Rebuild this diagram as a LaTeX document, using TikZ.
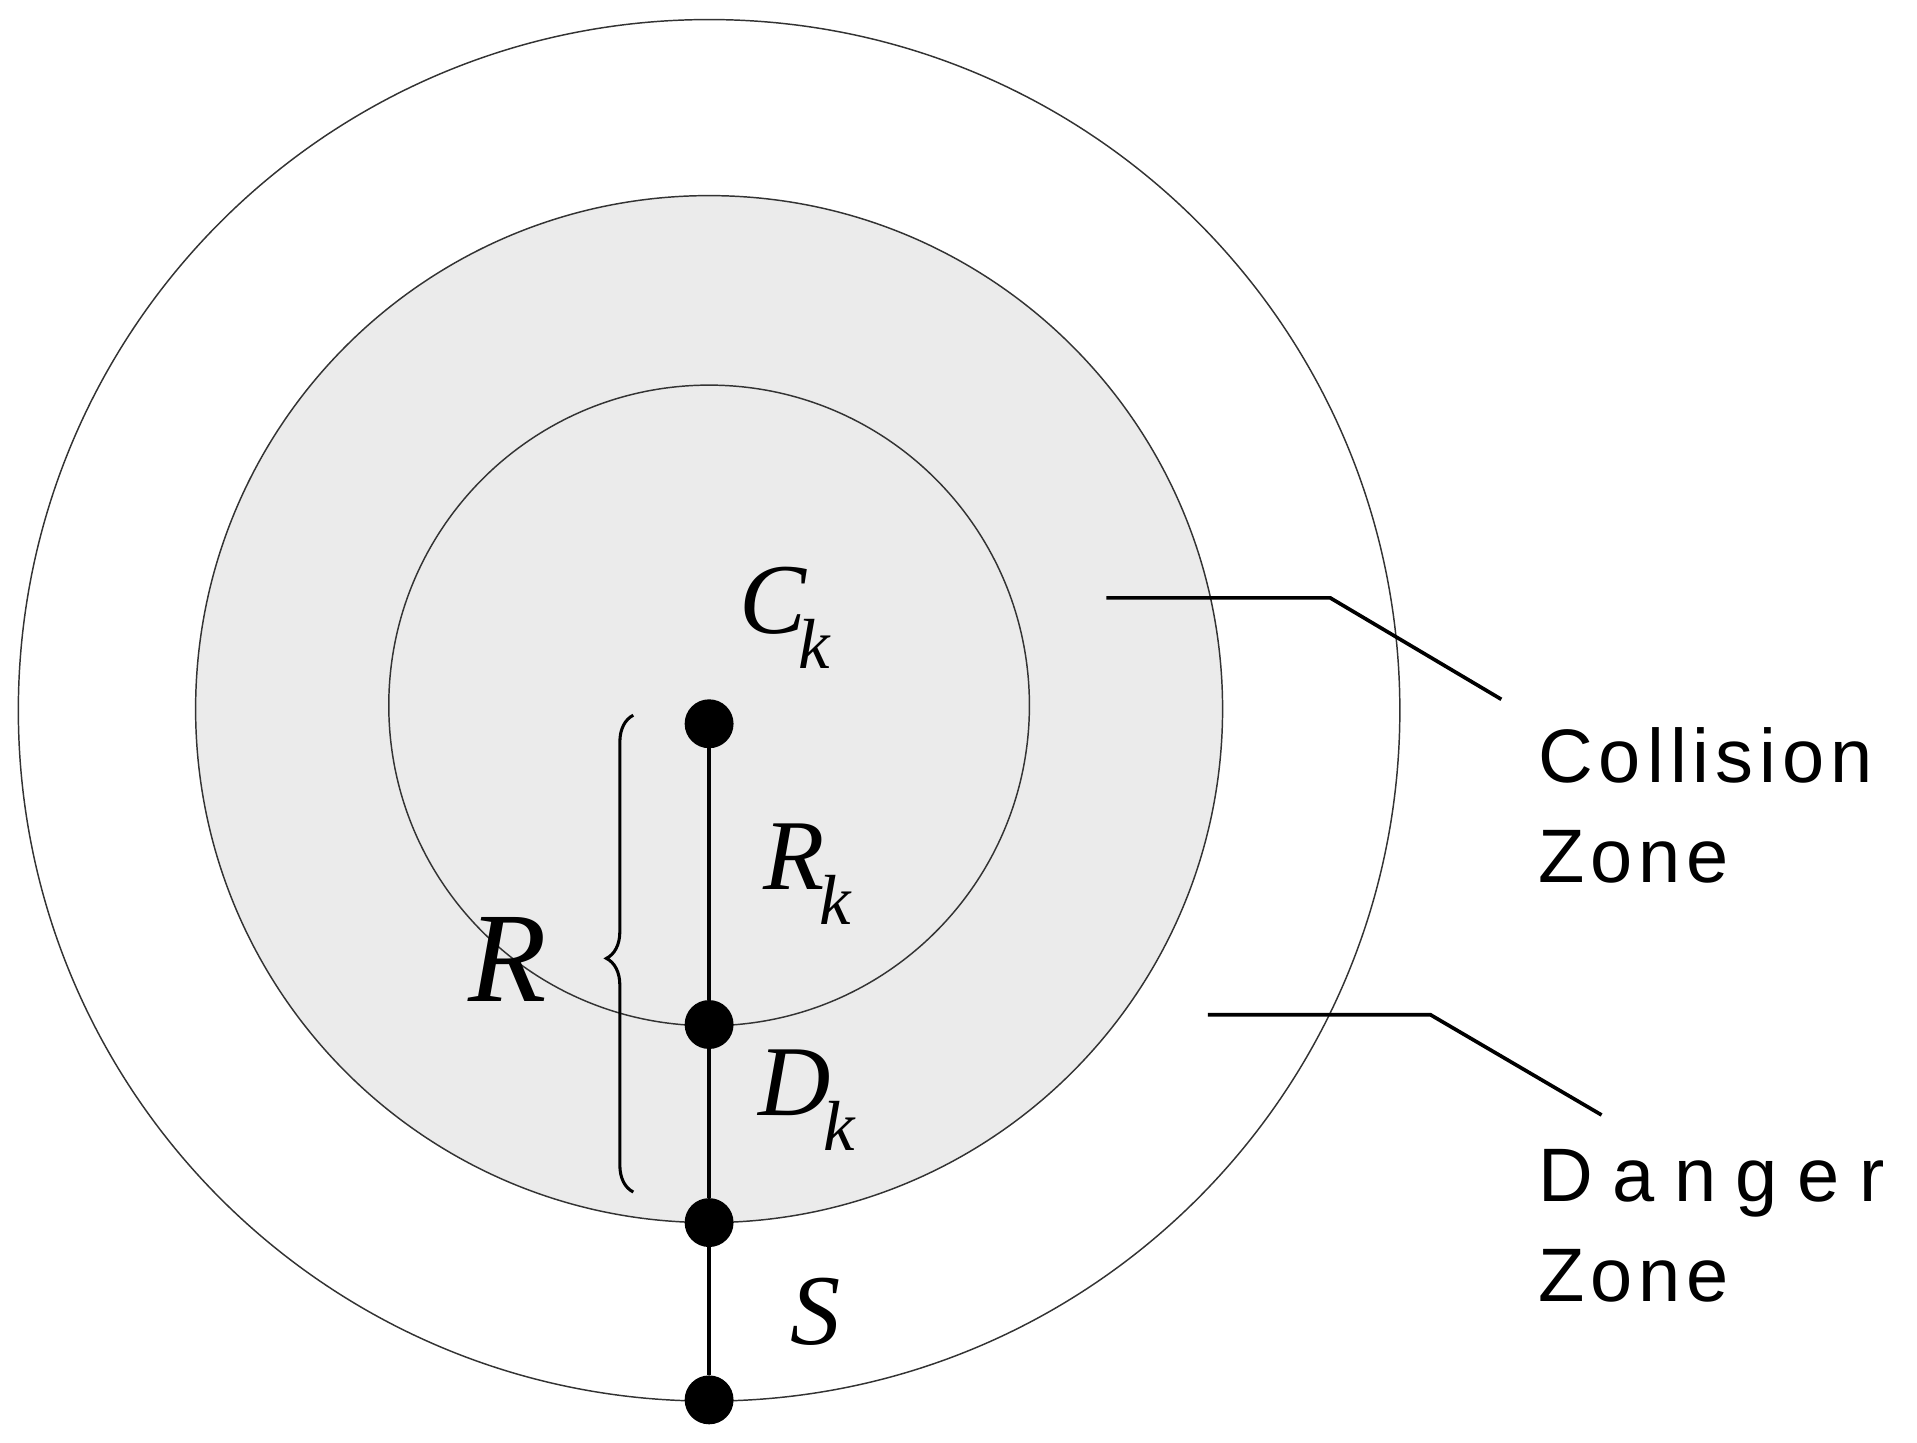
\documentclass[tikz,border=0pt]{standalone}
\usepackage{fontspec}
\setmainfont{Liberation Serif}
\newfontfamily\zsans[LetterSpace=8]{Liberation Sans}
\usetikzlibrary{decorations.pathreplacing}
\begin{document}
\begin{tikzpicture}[x=1pt,y=-1pt,
  circ/.style={draw=black!80,line width=1.2pt},
  dot/.style={circle,fill=black,inner sep=0pt,minimum size=40pt},
  lead/.style={line width=3pt},
  lab/.style={font=\fontsize{82}{90}\selectfont\itshape,inner sep=0pt},
  zone/.style={font=\zsans\fontsize{62}{82}\selectfont,align=left,anchor=north west,inner sep=0pt}]
\useasboundingbox (0,0) rectangle (1568,1180);
\draw[circ] (580,581) circle (565);
\draw[circ,fill=black!8] (580,580) circle (420);
\draw[circ] (580,577) circle (262);
\node[dot] (c) at (580,592) {};
\node[dot] (r) at (580,838) {};
\node[dot] (d) at (580,1000) {};
\node[dot] (s) at (580,1145) {};
\draw[line width=3pt] (c) -- (r) -- (d) -- (s);
\node[lab] at (642,505) {C\kern-6pt\raisebox{-0.35em}{\fontsize{58}{58}\selectfont k}};
\node[lab] at (660,715) {R\kern-4pt\raisebox{-0.35em}{\fontsize{58}{58}\selectfont k}};
\node[lab] at (660,900) {D\kern-6pt\raisebox{-0.35em}{\fontsize{58}{58}\selectfont k}};
\node[lab] at (667,1073) {S};
\node[lab,font=\fontsize{105}{110}\selectfont\itshape] at (415,785) {R};
\coordinate (b1) at (518,975);
\coordinate (b2) at (518,585);
\draw[line width=2.5pt,decorate,decoration={brace,amplitude=22pt,aspect=0.49}] (b1) -- (b2);
\coordinate (a1) at (905,489); \coordinate (a2) at (1088,489); \coordinate (a3) at (1228,572);
\draw[lead] (a1) -- (a2) -- (a3);
\coordinate (e1) at (988,830); \coordinate (e2) at (1170,830); \coordinate (e3) at (1310,912);
\draw[lead] (e1) -- (e2) -- (e3);
\node[zone] (cz) at (1258,595) {Collision\\Zone};
\node[zone] (dz) at (1258,940) {D\hspace{16pt}a\hspace{16pt}n\hspace{16pt}g\hspace{16pt}e\hspace{16pt}r\\Zone};
\end{tikzpicture}
\end{document}
